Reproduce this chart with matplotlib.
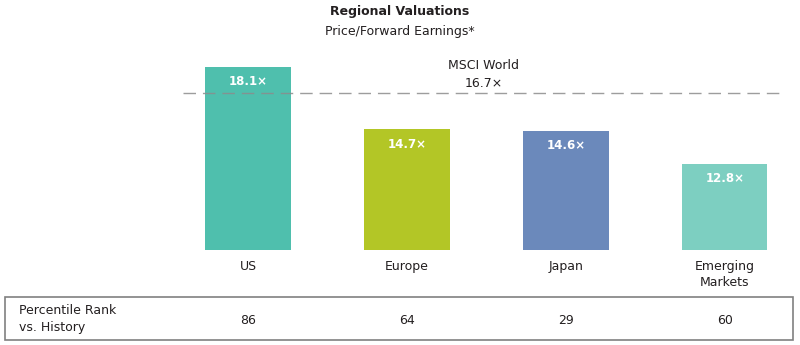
"""Regional valuations: price / forward earnings by region."""
import matplotlib
matplotlib.use("Agg")
import matplotlib.pyplot as plt
from matplotlib.patches import Rectangle
from matplotlib.transforms import blended_transform_factory

regions = ["US", "Europe", "Japan", "Emerging\nMarkets"]
pe_ratio = [18.1, 14.7, 14.6, 12.8]
percentile_rank = [86, 64, 29, 60]
msci_world = 16.7
colors = ["#4fbfad", "#b3c626", "#6b89bb", "#7dcfc1"]

plt.rcParams['font.family'] = ['DejaVu Sans']
text_col = "#231f20"

fig = plt.figure(figsize=(8, 3.45), dpi=100)

# overlay in pixel coordinates for titles and the table box
bg = fig.add_axes([0, 0, 1, 1])
bg.set_xlim(0, 800)
bg.set_ylim(345, 0)
bg.axis("off")

# bar panel: x from 183px to 786px, bottom at 250px, top at 40px
ax = fig.add_axes([183 / 800, 1 - 250 / 345, (786 - 183) / 800, (250 - 40) / 345])
ax.set_zorder(2)
ax.patch.set_visible(False)
x = list(range(len(regions)))
ax.bar(x, pe_ratio, width=0.535, color=colors, zorder=1)
ax.set_xlim(-0.409, 3.384)
ybase = 8.1
ax.set_ylim(ybase, ybase + 210 / 18.3)
ax.axhline(msci_world, color="#8c8c8c", lw=1.0, dashes=(9, 5), alpha=0.85, zorder=3)
ax.axis("off")

for xi, v in zip(x, pe_ratio):
    ax.annotate(f"{v:.1f}×", (xi, v), xytext=(0, -6), textcoords="offset points",
                ha="center", va="top", color="white", fontsize=8.5, fontweight="bold")

ax.annotate("MSCI World", (1.48, msci_world), xytext=(0, 15), textcoords="offset points",
            ha="center", va="bottom", fontsize=9, color=text_col)
ax.annotate(f"{msci_world}×", (1.48, msci_world), xytext=(0, 2), textcoords="offset points",
            ha="center", va="bottom", fontsize=9, color=text_col)

bg.text(400, 12, "Regional Valuations", ha="center", va="center",
        fontsize=9, fontweight="bold", color=text_col)
bg.text(400, 31, "Price/Forward Earnings*", ha="center", va="center",
        fontsize=9, color=text_col)

# category labels and table values under each bar
tr = blended_transform_factory(ax.transData, bg.transData)
for xi, name, rank in zip(x, regions, percentile_rank):
    bg.text(xi, 260, name, transform=tr, ha="center", va="top",
            fontsize=9, color=text_col, linespacing=1.3)
    bg.text(xi, 320, str(rank), transform=tr, ha="center", va="center",
            fontsize=9, color=text_col)

bg.add_patch(Rectangle((5, 297), 788, 43, fill=False, edgecolor="#808080", lw=1.2))
bg.text(19, 319, "Percentile Rank\nvs. History", ha="left", va="center",
        fontsize=9, color=text_col, linespacing=1.3)

fig.savefig("out.png", dpi=100)
